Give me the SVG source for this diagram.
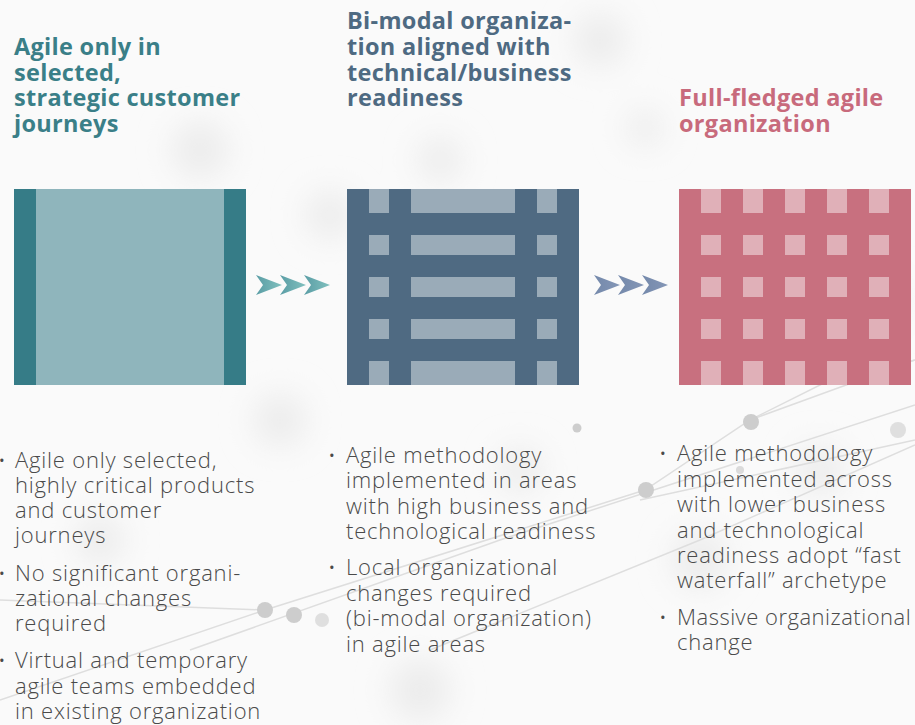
<svg xmlns="http://www.w3.org/2000/svg" width="915" height="725" viewBox="0 0 915 725">
<defs>
<style>
.t{font-family:"Open Sans","Liberation Sans",sans-serif;font-weight:700;font-size:23.5px;letter-spacing:0.3px}
.b{font-family:"Open Sans","Liberation Sans",sans-serif;font-weight:300;font-size:22px;letter-spacing:0.8px;fill:#4a4a4a}
.bu{font-family:"Open Sans","Liberation Sans",sans-serif;font-size:15px;fill:#4a4a4a}
.bg{stroke:#dedede;stroke-width:1.5;fill:none}
.dot{fill:#cdcdcd}
</style>
<linearGradient id="g1" x1="0" x2="1" y1="0" y2="0"><stop offset="0" stop-color="#5a9da5"/><stop offset="1" stop-color="#80c0be"/></linearGradient>
<linearGradient id="g2" x1="0" x2="1" y1="0" y2="0"><stop offset="0" stop-color="#7489ab"/><stop offset="1" stop-color="#8496b6"/></linearGradient>
<filter id="blur" x="-50%" y="-50%" width="200%" height="200%"><feGaussianBlur stdDeviation="16"/></filter>
<polygon id="chev" points="0,0 26,10 0,20 7,10"/>
</defs>
<rect width="915" height="725" fill="#fafafa"/>
<g id="background">
<g filter="url(#blur)" fill="#ebebeb">
<circle cx="440" cy="160" r="22"/><circle cx="330" cy="215" r="24"/><circle cx="645" cy="128" r="18"/>
<circle cx="280" cy="420" r="26"/><circle cx="100" cy="540" r="24"/><circle cx="520" cy="470" r="22"/>
<circle cx="700" cy="560" r="28"/><circle cx="880" cy="300" r="24"/><circle cx="600" cy="40" r="26"/>
<circle cx="200" cy="150" r="28"/><circle cx="820" cy="470" r="24"/><circle cx="420" cy="690" r="30"/>
</g>
<polyline class="bg" points="0,700 265,610 645,490 750,420 915,360"/>
<polyline class="bg" points="190,650 500,540 915,405"/>
<polyline class="bg" points="430,650 700,540 915,445"/>
<polyline class="bg" points="640,500 915,440"/>
<polyline class="bg" points="750,420 830,380 915,360"/>
<polyline class="bg" points="0,600 265,610"/>
<circle class="dot" cx="265" cy="610" r="8"/><circle class="dot" cx="294" cy="615" r="8"/><circle class="dot" cx="322" cy="620" r="7" opacity="0.6"/>
<circle class="dot" cx="577" cy="428" r="4.5"/><circle class="dot" cx="646" cy="490" r="8"/><circle class="dot" cx="751" cy="422" r="8"/>
<circle class="dot" cx="898" cy="430" r="8" opacity="0.6"/><circle class="dot" cx="740" cy="470" r="4" opacity="0.7"/>
</g>
<g id="stage1">
<text class="t" fill="#3a7f88"><tspan x="14" y="55">Agile only in</tspan><tspan x="14" y="81">selected,</tspan><tspan x="14" y="106">strategic customer</tspan><tspan x="14" y="132">journeys</tspan></text>
<rect x="14" y="189" width="232" height="196" fill="#8fb5bc"/>
<rect x="14" y="189" width="22" height="196" fill="#367c87"/>
<rect x="224" y="189" width="22" height="196" fill="#367c87"/>
<text class="bu" x="-1" y="466">•</text><text class="bu" x="-1" y="579">•</text><text class="bu" x="-1" y="666">•</text>
<text class="b"><tspan x="15" y="468">Agile only selected,</tspan><tspan x="15" y="493">highly critical products</tspan><tspan x="15" y="518">and customer</tspan><tspan x="15" y="543">journeys</tspan><tspan x="15" y="581">No significant organi-</tspan><tspan x="15" y="606">zational changes</tspan><tspan x="15" y="631">required</tspan><tspan x="15" y="668">Virtual and temporary</tspan><tspan x="15" y="694">agile teams embedded</tspan><tspan x="15" y="719">in existing organization</tspan></text>
</g>
<g id="stage2">
<text class="t" fill="#4e6a82"><tspan x="347" y="29">Bi-modal organiza-</tspan><tspan x="347" y="55">tion aligned with</tspan><tspan x="347" y="81">technical/business</tspan><tspan x="347" y="106">readiness</tspan></text>
<rect x="347" y="189" width="232" height="196" fill="#4f6a82"/>
<g fill="#9aabb8">
<rect x="369" y="189" width="20" height="24"/><rect x="411" y="189" width="104" height="24"/><rect x="537" y="189" width="20" height="24"/>
<rect x="369" y="235" width="20" height="20"/><rect x="411" y="235" width="104" height="20"/><rect x="537" y="235" width="20" height="20"/>
<rect x="369" y="277" width="20" height="20"/><rect x="411" y="277" width="104" height="20"/><rect x="537" y="277" width="20" height="20"/>
<rect x="369" y="319" width="20" height="20"/><rect x="411" y="319" width="104" height="20"/><rect x="537" y="319" width="20" height="20"/>
<rect x="369" y="361" width="20" height="24"/><rect x="411" y="361" width="104" height="24"/><rect x="537" y="361" width="20" height="24"/>
</g>
<text class="bu" x="329" y="461">•</text><text class="bu" x="329" y="573">•</text>
<text class="b"><tspan x="346" y="463">Agile methodology</tspan><tspan x="346" y="488">implemented in areas</tspan><tspan x="346" y="514">with high business and</tspan><tspan x="346" y="539">technological readiness</tspan><tspan x="346" y="575">Local organizational</tspan><tspan x="346" y="601">changes required</tspan><tspan x="346" y="626">(bi-modal organization)</tspan><tspan x="346" y="652">in agile areas</tspan></text>
</g>
<g id="stage3">
<text class="t" fill="#c86a7c"><tspan x="679" y="106">Full-fledged agile</tspan><tspan x="679" y="132">organization</tspan></text>
<rect x="679" y="189" width="232" height="196" fill="#c8707f"/>
<g fill="#e0b0b8">
<rect x="701" y="189" width="20" height="24"/><rect x="743" y="189" width="20" height="24"/><rect x="785" y="189" width="20" height="24"/><rect x="827" y="189" width="20" height="24"/><rect x="869" y="189" width="20" height="24"/>
<rect x="701" y="235" width="20" height="20"/><rect x="743" y="235" width="20" height="20"/><rect x="785" y="235" width="20" height="20"/><rect x="827" y="235" width="20" height="20"/><rect x="869" y="235" width="20" height="20"/>
<rect x="701" y="277" width="20" height="20"/><rect x="743" y="277" width="20" height="20"/><rect x="785" y="277" width="20" height="20"/><rect x="827" y="277" width="20" height="20"/><rect x="869" y="277" width="20" height="20"/>
<rect x="701" y="319" width="20" height="20"/><rect x="743" y="319" width="20" height="20"/><rect x="785" y="319" width="20" height="20"/><rect x="827" y="319" width="20" height="20"/><rect x="869" y="319" width="20" height="20"/>
<rect x="701" y="361" width="20" height="24"/><rect x="743" y="361" width="20" height="24"/><rect x="785" y="361" width="20" height="24"/><rect x="827" y="361" width="20" height="24"/><rect x="869" y="361" width="20" height="24"/>
</g>
<text class="bu" x="660" y="459">•</text><text class="bu" x="660" y="623">•</text>
<text class="b"><tspan x="677" y="461">Agile methodology</tspan><tspan x="677" y="487">implemented across</tspan><tspan x="677" y="512">with lower business</tspan><tspan x="677" y="538">and technological</tspan><tspan x="677" y="563">readiness adopt “fast</tspan><tspan x="677" y="588">waterfall” archetype</tspan><tspan x="677" y="625" style="letter-spacing:0.5px">Massive organizational</tspan><tspan x="677" y="650">change</tspan></text>
</g>
<g id="connectors">
<g fill="url(#g1)"><use href="#chev" x="256" y="275"/><use href="#chev" x="280" y="275"/><use href="#chev" x="304" y="275"/></g>
<g fill="url(#g2)"><use href="#chev" x="594" y="275"/><use href="#chev" x="618" y="275"/><use href="#chev" x="642" y="275"/></g>
</g>
</svg>
